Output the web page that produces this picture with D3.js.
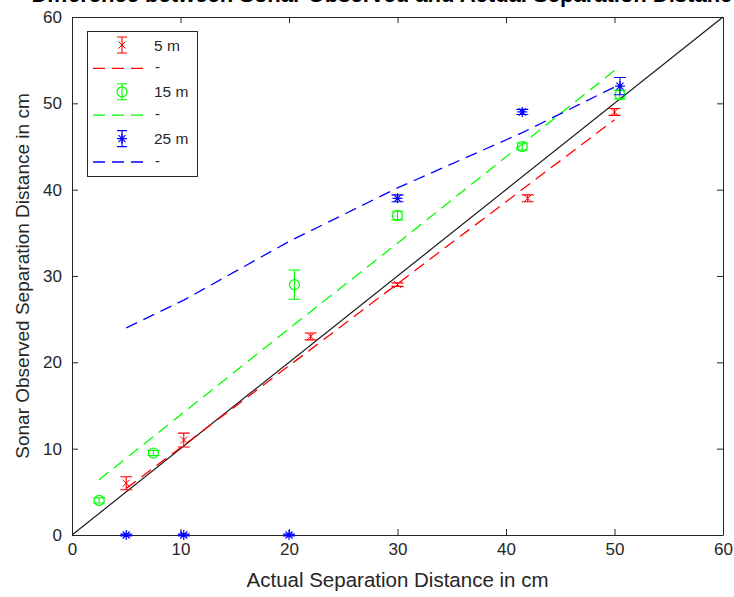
<!DOCTYPE html>
<html>
<head>
<meta charset="utf-8">
<script src="https://cdn.jsdelivr.net/npm/d3@7"></script>
<style>
  body { margin: 0; background: #fff; }
  text { font-family: "Liberation Sans", Arial, sans-serif; }
</style>
</head>
<body>
<svg width="734" height="597"></svg>
<script>
// data
let redX = [5, 10.3, 22, 30, 42, 50]
let redY = [6, 11, 23, 29, 39, 49]
let redErr = [0.75, 0.8, 0.4, 0.2, 0.4, 0.4]
let redFit = [5.4, 10.4, 21.5, 29.1, 40.5, 48.1]

let greenX = [2.5, 7.5, 20.5, 30, 41.5, 50.5]
let greenY = [4, 9.5, 29, 37, 45, 51]
let greenErr = [0.3, 0.3, 1.7, 0.5, 0.4, 0.5]
let greenFit = [6.4, 11.4, 24.4, 33.8, 45.3, 54.3]

let blueX = [5, 10.3, 20, 30, 41.5, 50.5]
let blueY = [0, 0, 0, 39, 49, 52]
let blueErr = [0.1, 0.1, 0.1, 0.4, 0.3, 1.0]
let blueFit = [24, 27.2, 34, 40.2, 46.6, 52.2]

let refLine = [0, 60]
let ticks = [0, 10, 20, 30, 40, 50, 60]
let legendLabels = ['5 m', '-', '15 m', '-', '25 m', '-']

let pLeft = 72, pRight = 723, pTop = 17, pBottom = 535
let svg = d3.select('svg')
let x = d3.scaleLinear().domain([0, 60]).range([pLeft, pRight])
let y = d3.scaleLinear().domain([0, 60]).range([pBottom, pTop])
let axisColor = '#262626'

// title (clipped at top in the original)
svg.append('text')
    .attr('x', 388).attr('y', 2)
    .attr('text-anchor', 'middle')
    .attr('font-weight', 'bold')
    .attr('font-size', 22)
    .attr('fill', '#000')
    .text('Difference between Sonar Observed and Actual Separation Distance')

// axes
function styleAxis(g) {
    g.selectAll('path').attr('stroke', axisColor)
    g.selectAll('line').attr('stroke', axisColor)
    g.selectAll('text').attr('fill', axisColor).attr('font-size', 17)
}
svg.append('g').attr('transform', `translate(0,${pBottom})`)
    .call(d3.axisBottom(x).tickValues(ticks).tickSize(-6).tickSizeOuter(0).tickPadding(8))
    .call(styleAxis)
svg.append('g').attr('transform', `translate(0,${pTop})`)
    .call(d3.axisTop(x).tickValues(ticks).tickSize(-6).tickSizeOuter(0).tickFormat(''))
    .call(styleAxis)
svg.append('g').attr('transform', `translate(${pLeft},0)`)
    .call(d3.axisLeft(y).tickValues(ticks).tickSize(-6).tickSizeOuter(0).tickPadding(10))
    .call(styleAxis)
svg.append('g').attr('transform', `translate(${pRight},0)`)
    .call(d3.axisRight(y).tickValues(ticks).tickSize(-6).tickSizeOuter(0).tickFormat(''))
    .call(styleAxis)

// axis labels
svg.append('text')
    .attr('x', (pLeft + pRight) / 2).attr('y', 587)
    .attr('text-anchor', 'middle').attr('font-size', 20.5).attr('fill', axisColor)
    .text('Actual Separation Distance in cm')
svg.append('text')
    .attr('transform', `translate(29,${(pTop + pBottom) / 2}) rotate(-90)`)
    .attr('text-anchor', 'middle').attr('font-size', 19).attr('fill', axisColor)
    .text('Sonar Observed Separation Distance in cm')

let plot = svg.append('g')

// y = x reference
plot.append('line')
    .attr('x1', x(refLine[0])).attr('y1', y(refLine[0]))
    .attr('x2', x(refLine[1])).attr('y2', y(refLine[1]))
    .attr('stroke', '#1a1a1a').attr('stroke-width', 1.2)

let line = d3.line().x(d => x(d[0])).y(d => y(d[1]))

function drawFit(xs, ys, color) {
    plot.append('path')
        .attr('d', line(d3.zip(xs, ys)))
        .attr('fill', 'none')
        .attr('stroke', color)
        .attr('stroke-width', 1.3)
        .attr('stroke-dasharray', '12,7')
}

function drawMarker(g, type, cx, cy, color) {
    if (type === 'x') {
        g.append('path').attr('d', `M${cx - 3.5},${cy - 3.5}L${cx + 3.5},${cy + 3.5}M${cx - 3.5},${cy + 3.5}L${cx + 3.5},${cy - 3.5}`)
            .attr('stroke', color).attr('stroke-width', 1)
    } else if (type === 'o') {
        g.append('circle').attr('cx', cx).attr('cy', cy).attr('r', 5)
            .attr('fill', 'none').attr('stroke', color).attr('stroke-width', 1.2)
    } else {
        let s = 5
        g.append('path').attr('d', `M${cx - s},${cy}L${cx + s},${cy}M${cx},${cy - s}L${cx},${cy + s}` +
            `M${cx - s * 0.7},${cy - s * 0.7}L${cx + s * 0.7},${cy + s * 0.7}M${cx - s * 0.7},${cy + s * 0.7}L${cx + s * 0.7},${cy - s * 0.7}`)
            .attr('stroke', color).attr('stroke-width', 1.2)
    }
}

function drawErrorbars(xs, ys, errs, color, type) {
    let g = plot.append('g')
    xs.forEach((xv, i) => {
        let px = x(xv), y0 = y(ys[i] - errs[i]), y1 = y(ys[i] + errs[i])
        g.append('path')
            .attr('d', `M${px},${y0}L${px},${y1}M${px - 6},${y0}L${px + 6},${y0}M${px - 6},${y1}L${px + 6},${y1}`)
            .attr('stroke', color).attr('stroke-width', 1.1).attr('fill', 'none')
        drawMarker(g, type, px, y(ys[i]), color)
    })
}

drawFit(redX, redFit, '#ff0000')
drawFit(greenX, greenFit, '#00ff00')
drawFit(blueX, blueFit, '#0000ff')
drawErrorbars(redX, redY, redErr, '#ff0000', 'x')
drawErrorbars(greenX, greenY, greenErr, '#00ff00', 'o')
drawErrorbars(blueX, blueY, blueErr, '#0000ff', '*')

// legend
let legend = svg.append('g')
legend.append('rect')
    .attr('x', 87.5).attr('y', 31.5).attr('width', 110).attr('height', 145)
    .attr('fill', '#fff').attr('stroke', axisColor).attr('stroke-width', 1)
let legendColors = ['#ff0000', '#ff0000', '#00ff00', '#00ff00', '#0000ff', '#0000ff']
let legendTypes = ['x', 'dash', 'o', 'dash', '*', 'dash']
legendLabels.forEach((lab, i) => {
    let ly = 45 + i * 23.4
    let c = legendColors[i]
    if (legendTypes[i] === 'dash') {
        legend.append('line').attr('x1', 93).attr('x2', 150).attr('y1', ly).attr('y2', ly)
            .attr('stroke', c).attr('stroke-width', 1.3).attr('stroke-dasharray', '12,7')
        legend.append('text').attr('x', 155).attr('y', ly + 4).attr('font-size', 15).attr('fill', axisColor).text(lab)
    } else {
        legend.append('path')
            .attr('d', `M122,${ly - 8}L122,${ly + 8}M117,${ly - 8}L127,${ly - 8}M117,${ly + 8}L127,${ly + 8}`)
            .attr('stroke', c).attr('stroke-width', 1.1)
        drawMarker(legend, legendTypes[i], 122, ly, c)
        legend.append('text').attr('x', 154).attr('y', ly + 5.5).attr('font-size', 15.5).attr('fill', axisColor).text(lab)
    }
})
</script>
</body>
</html>
